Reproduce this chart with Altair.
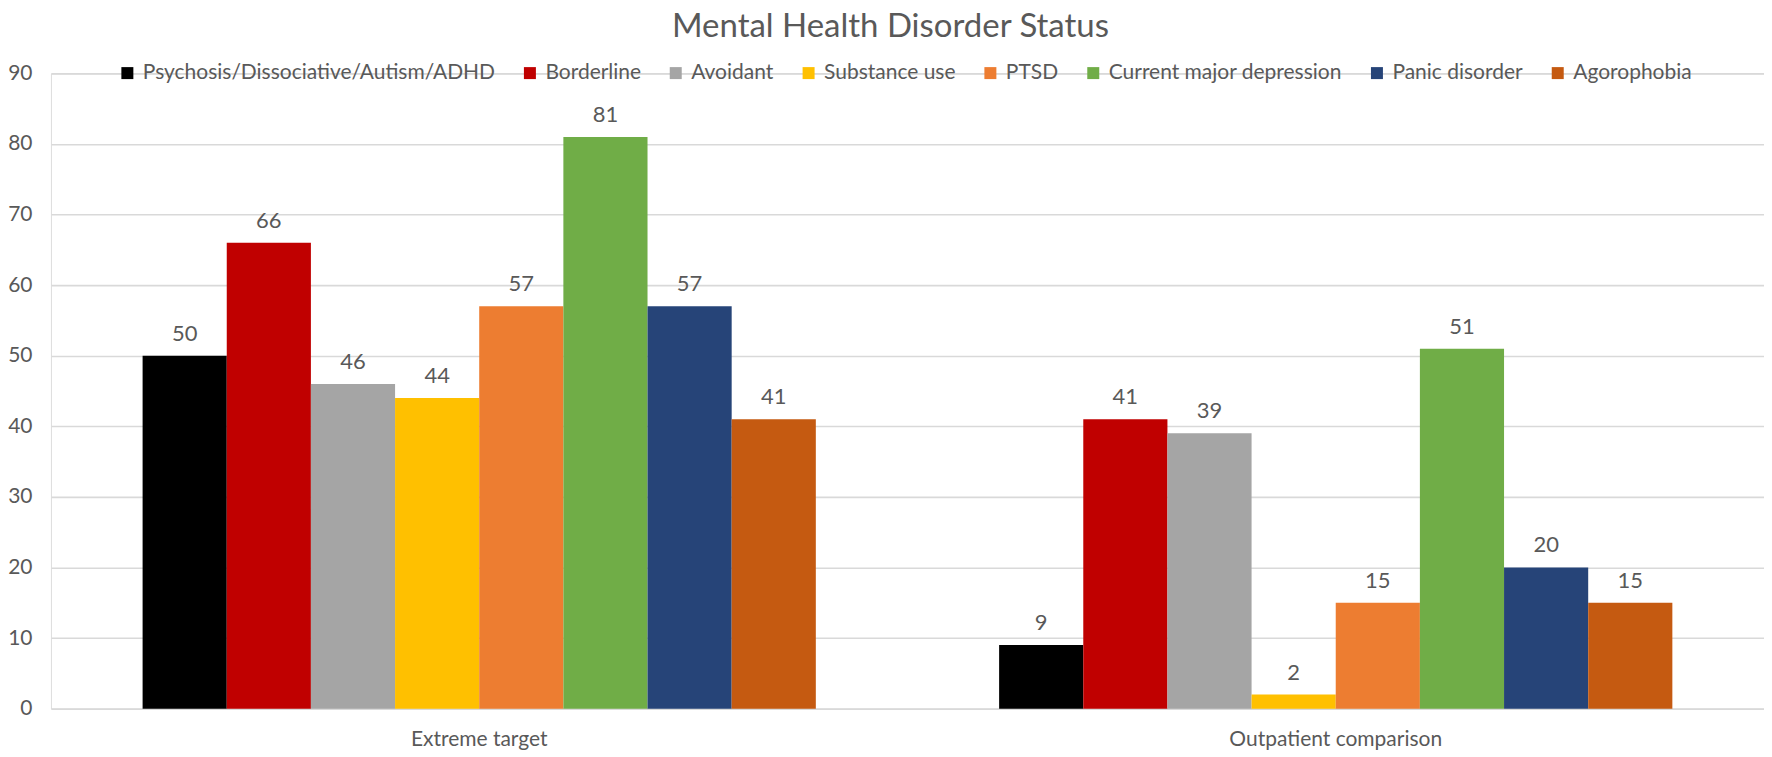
import altair as alt
import pandas as pd

groups = ["Extreme target", "Outpatient comparison"]
disorders = [
    "Psychosis/Dissociative/Autism/ADHD",
    "Borderline",
    "Avoidant",
    "Substance use",
    "PTSD",
    "Current major depression",
    "Panic disorder",
    "Agorophobia",
]
extreme_values = [50, 66, 46, 44, 57, 81, 57, 41]
outpatient_values = [9, 41, 39, 2, 15, 51, 20, 15]
colors = ["#000000", "#C00000", "#A5A5A5", "#FFC000", "#ED7D31", "#70AD47", "#264478", "#C55A11"]
y_ticks = [0, 10, 20, 30, 40, 50, 60, 70, 80, 90]

rows = []
for g, vals in zip(groups, [extreme_values, outpatient_values]):
    for d, v in zip(disorders, vals):
        rows.append({"group": g, "disorder": d, "value": v})
df = pd.DataFrame(rows)

FONT = "Lato"
TXT = "#595959"

base = alt.Chart(df).encode(
    x=alt.X(
        "group:N",
        sort=groups,
        scale=alt.Scale(paddingInner=0.214, paddingOuter=0.107),
        axis=alt.Axis(
            title=None, domain=False, ticks=False, labelAngle=0, labelLimit=0,
            labelFont=FONT, labelFontSize=21, labelColor=TXT, labelPadding=20,
        ),
    ),
    xOffset=alt.XOffset("disorder:N", sort=disorders, scale=alt.Scale(paddingInner=0, paddingOuter=0)),
    y=alt.Y(
        "value:Q",
        scale=alt.Scale(domain=[0, 90], nice=False),
        axis=alt.Axis(
            title=None, values=y_ticks, domain=False, ticks=False,
            labelFont=FONT, labelFontSize=21, labelColor=TXT, labelPadding=19,
            gridColor="#D9D9D9", gridWidth=1.6,
        ),
    ),
)

bars = base.mark_bar().encode(
    color=alt.Color(
        "disorder:N",
        sort=disorders,
        scale=alt.Scale(domain=disorders, range=colors),
        legend=alt.Legend(
            title=None, orient="none", legendX=66, legendY=-11,
            direction="horizontal", columns=8, padding=0, labelLimit=0,
            symbolType="square", symbolSize=144, symbolStrokeWidth=0,
            labelFont=FONT, labelFontSize=21, labelColor=TXT,
            labelOffset=5, columnPadding=24,
        ),
    )
)

labels = base.mark_text(
    baseline="alphabetic", dy=-15, font=FONT, fontSize=22, color=TXT
).encode(text="value:Q")

chart = alt.layer(bars, labels).properties(
    width=1715,
    height=636,
    title=alt.TitleParams(
        "Mental Health Disorder Status",
        font=FONT, fontSize=33, fontWeight="normal", color=TXT,
        anchor="middle", frame="group", dx=-17, offset=18,
    ),
    autosize=alt.AutoSizeParams(type="none"),
    padding={"left": 43, "top": 65, "right": 0, "bottom": 42},
).configure_view(stroke=None).configure(background="white")

chart.save("out.html", embed_options={"renderer": "svg", "actions": False})
